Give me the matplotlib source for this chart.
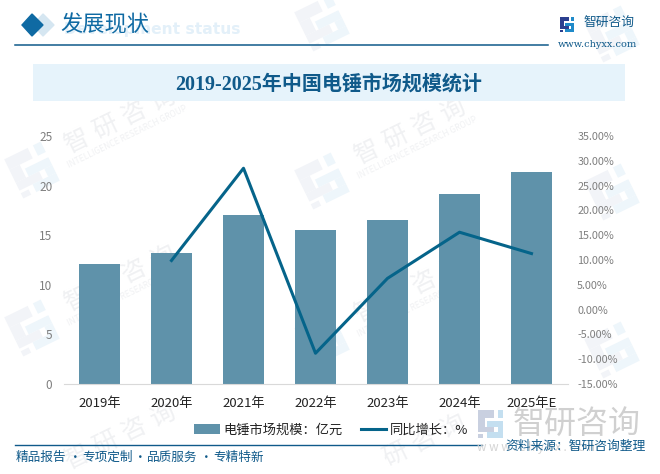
import numpy as np
import matplotlib
matplotlib.use('Agg')
import matplotlib.pyplot as plt
from matplotlib.patches import Polygon, Rectangle
from matplotlib.transforms import Affine2D

plt.rcParams['font.family'] = ['Noto Sans CJK SC', 'DejaVu Sans']

# Data
years = ['2019年', '2020年', '2021年', '2022年', '2023年', '2024年', '2025年E']
market_size = [12.1, 13.2, 17.0, 15.5, 16.5, 19.2, 21.4]
growth = [np.nan, 9.9, 28.5, -8.8, 6.3, 15.6, 11.3]
left_ticks = [0, 5, 10, 15, 20, 25]
right_ticks = [-15, -10, -5, 0, 5, 10, 15, 20, 25, 30, 35]

W, H = 660, 474
BLUE = '#0f6aa3'
DARK = '#105a8a'
BAR = '#5f92aa'
LINE = '#05648a'

# Logo pieces (x, y, w, h) on a 14x15 grid, left part and right part
logo_left = [(0, 0, 9, 4), (0, 4, 4, 5), (0, 9, 9, 3), (0, 13, 3, 2)]
logo_right = [(11, 0, 3, 4), (5, 6, 9, 3), (11, 9, 3, 3), (5, 12, 9, 3)]

fig = plt.figure(figsize=(W / 100, H / 100), dpi=100)

# Overlay in pixel coordinates for the page furniture
bg = fig.add_axes([0, 0, 1, 1], zorder=0)
bg.set_xlim(0, W)
bg.set_ylim(H, 0)
bg.axis('off')


def draw_logo(x0, y0, scale, c1, c2, angle=0, z=3):
    # rotate around the logo centre
    tr = (Affine2D().translate(-7, -7.5).scale(scale).rotate_deg(-angle).translate(x0, y0)
          + bg.transData)
    for r in logo_left:
        bg.add_patch(Rectangle(r[:2], r[2], r[3], color=c1, transform=tr, zorder=z, lw=0))
    for r in logo_right:
        bg.add_patch(Rectangle(r[:2], r[2], r[3], color=c2, transform=tr, zorder=z, lw=0))


# Watermarks, repeated across the page
a = np.deg2rad(26)
for cx, cy in [(32, 170), (322, 181), (612, 192), (32, 328), (322, 339), (612, 350),
               (322, 23), (612, 34), (32, 486), (322, 497)]:
    if cy < H:
        draw_logo(cx, cy, 2.9, '#f2f4f8', '#eef6fb', angle=26, z=1)
    tx, ty = cx + 88, cy - 50
    for i, ch in enumerate('智研咨询'):
        px = tx + (i - 1.5) * 32 * np.cos(a)
        py = ty - (i - 1.5) * 32 * np.sin(a)
        if 14 < px < W - 14 and 14 < py < H - 14:
            bg.text(px, py, ch, fontsize=18, color='#f0f1f3', rotation=26,
                    ha='center', va='center', zorder=1)
    sx, sy = cx + 95, cy - 33
    if 70 < sx < W - 70 and 40 < sy < H - 40:
        bg.text(sx, sy, 'INTELLIGENCE RESEARCH GROUP', fontsize=6, color='#f0f1f3',
                rotation=26, ha='center', va='center', zorder=1)

# Heading
bg.text(240, 29, 'Development status', fontsize=11.2, weight='bold', color='#e3f0f9',
        family='DejaVu Sans', ha='right', va='center', zorder=2)
bg.add_patch(Polygon([[43, 14], [54, 25], [43, 36], [33, 25]], color='#d5e6f1', zorder=2))
bg.add_patch(Polygon([[32, 14], [43, 25], [32, 36], [22, 25]], color=BLUE, zorder=3))
bg.text(60, 25, '发展现状', fontsize=16, color=BLUE, ha='left', va='center', zorder=3)
bg.plot([15, 548], [45, 45], color=DARK, lw=1.1, zorder=2)

# Logo top right
draw_logo(567, 24.5, 1.0, '#2b3f8f', '#1f8ac9')
bg.text(583, 23, '智研咨询', fontsize=9.2, color=DARK, ha='left', va='center', zorder=3)
bg.text(558, 44, 'www.chyxx.com', fontsize=7, color=DARK, family='DejaVu Serif',
        ha='left', va='center', zorder=3)

# Title band
bg.add_patch(Rectangle((33, 64), 592, 37, color='#e6f3fb', zorder=2, lw=0))
bg.text(329, 85, '2019-2025年中国电锤市场规模统计', fontsize=14.4, weight='bold', color=DARK,
        family=['Liberation Serif', 'Noto Sans CJK SC'], ha='center', va='center', zorder=3)

# Footer
bg.plot([15, 482], [444.5, 444.5], color=DARK, lw=1.0, zorder=2)
for fx, chunk in zip([16, 82, 147, 213], ['精品报告', '专项定制', '品质服务', '专精特新']):
    bg.text(fx, 457, chunk, fontsize=9.1, color=DARK, ha='left', va='center', zorder=3)
for fx in [75, 140, 206]:
    bg.text(fx, 457, '·', fontsize=9.1, color=DARK, ha='center', va='center', zorder=3)
draw_logo(490.5, 424, 1.85, '#c9d0e0', '#c4dff0', z=2)
bg.text(513, 424, '智研咨询', fontsize=23, color='#d0d0d0', ha='left', va='center', zorder=2)
bg.text(477, 447, 'w w w . c h y x x . c o m', fontsize=8.5, color='#d4d4d4',
        ha='left', va='center', zorder=2)
bg.text(505, 446, '资料来源：智研咨询整理', fontsize=9.2, color=DARK, ha='left', va='center', zorder=3)

# Chart: spans x 63-567, y 136-384 in pixels
ax = fig.add_axes([63.5 / W, 1 - 384 / H, 504 / W, 248 / H], zorder=2)
ax.patch.set_alpha(0)
x = np.arange(len(years))
bars = ax.bar(x, market_size, width=0.57, color=BAR, zorder=2)
ax.set_xlim(-0.5, len(years) - 0.5)
ax.set_ylim(0, 25)
ax.set_yticks(left_ticks)
ax.set_xticks(x)
ax.set_xticklabels(years, fontsize=9.5, color='#222222')
ax.tick_params(axis='x', length=0, pad=9)
ax.tick_params(axis='y', length=0, pad=8, labelsize=8.5, labelcolor='#7f7f7f')
for s in ['top', 'left', 'right']:
    ax.spines[s].set_visible(False)
ax.spines['bottom'].set_color('#d9d9d9')

ax2 = ax.twinx()
ax2.patch.set_alpha(0)
line, = ax2.plot(x, growth, color=LINE, lw=2.2, zorder=3)
ax2.set_ylim(-15, 35)
ax2.set_yticks(right_ticks)
ax2.set_yticklabels(['%.2f%%' % v for v in right_ticks], fontsize=7.8, color='#7f7f7f')
ax2.tick_params(axis='y', length=0, pad=7)
for s in ax2.spines.values():
    s.set_visible(False)

# Legend
leg = fig.legend([bars, line], ['电锤市场规模：亿元', '同比增长：%'], loc='center',
                 bbox_to_anchor=(331 / W, 1 - 430 / H), ncol=2, frameon=False,
                 fontsize=9.5, handlelength=1.95, columnspacing=1.4, handletextpad=0.25)
for t in leg.get_texts():
    t.set_color('#222222')

fig.savefig('out.png', dpi=100)
